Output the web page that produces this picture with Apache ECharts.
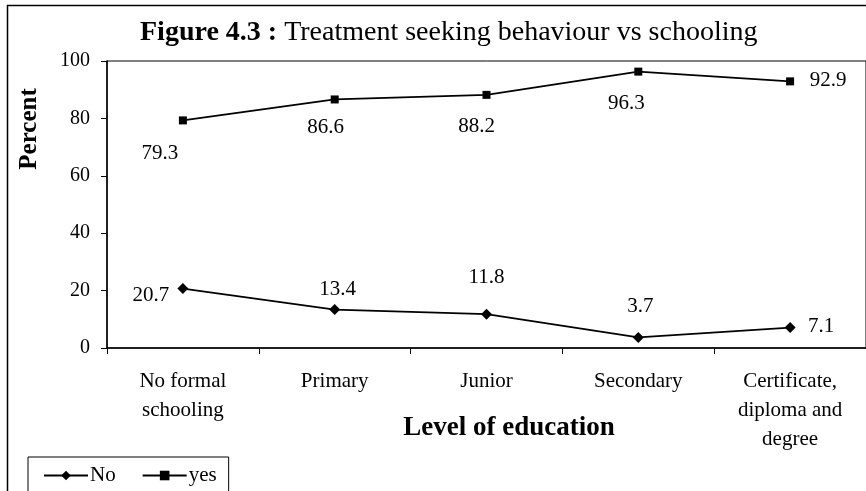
<!DOCTYPE html>
<html>
<head>
<meta charset="utf-8">
<script src="https://cdn.jsdelivr.net/npm/echarts@6/dist/echarts.min.js"></script>
<style>
  html, body { margin: 0; padding: 0; background: #fff; }
  #chart { width: 866px; height: 491px; }
</style>
</head>
<body>
<div id="chart"></div>
<script>
// data
var categories = ['No formal\nschooling', 'Primary', 'Junior', 'Secondary', 'Certificate,\ndiploma and\ndegree'];
var noValues = [20.7, 13.4, 11.8, 3.7, 7.1];
var yesValues = [79.3, 86.6, 88.2, 96.3, 92.9];
var yTicks = [0, 20, 40, 60, 80, 100];

// where each value label sits relative to its point (style only)
var noLabelOffsets = [[-32, 7], [3, -20], [0, -37], [2, -31], [31, -1]];
var yesLabelOffsets = [[-23, 33], [-9, 28], [-10, 32], [-12, 32], [38, -1]];

var FONT = '"Liberation Serif", "Times New Roman", serif';

function withLabels(values, offsets) {
  var out = [];
  for (var i = 0; i < values.length; i++) {
    out.push({
      value: values[i],
      label: { offset: offsets[i] }
    });
  }
  return out;
}

var chart = echarts.init(document.getElementById('chart'));

var baseSeries = {
  type: 'line',
  smooth: false,
  lineStyle: { color: '#000', width: 1.8 },
  itemStyle: { color: '#000' },
  label: {
    show: true,
    position: 'inside',
    color: '#000',
    fontFamily: FONT,
    fontSize: 21
  }
};

var option = {
  animation: false,
  backgroundColor: '#fff',
  title: {
    left: 135,
    top: 14,
    text: '{b|Figure 4.3 :} Treatment seeking behaviour vs schooling',
    textStyle: {
      fontFamily: FONT,
      fontSize: 28,
      fontWeight: 'normal',
      color: '#000',
      rich: {
        b: { fontFamily: FONT, fontSize: 28, fontWeight: 'bold', color: '#000' }
      }
    }
  },
  legend: {
    left: 28,
    top: 457,
    orient: 'horizontal',
    padding: [8, 12, 30, 15],
    itemGap: 26,
    itemWidth: 44,
    itemHeight: 12,
    borderColor: '#000',
    borderWidth: 1,
    textStyle: { fontFamily: FONT, fontSize: 21, color: '#000', padding: [0, 0, 0, -3] },
    data: ['No', 'yes']
  },
  grid: {
    show: true,
    left: 107,
    top: 61,
    right: -9,
    bottom: 143,
    borderColor: '#000',
    borderWidth: 1,
    backgroundColor: 'transparent'
  },
  xAxis: {
    type: 'category',
    data: categories,
    boundaryGap: true,
    axisLine: { show: true, lineStyle: { color: '#000', width: 1.5 } },
    axisTick: { show: true, interval: 0, length: 6, lineStyle: { color: '#000' } },
    axisLabel: {
      interval: 0,
      margin: 19,
      color: '#000',
      fontFamily: FONT,
      fontSize: 21,
      lineHeight: 29
    },
    splitLine: { show: false }
  },
  yAxis: {
    type: 'value',
    min: yTicks[0],
    max: yTicks[yTicks.length - 1],
    interval: 20,
    axisLine: { show: true, lineStyle: { color: '#000', width: 1.5 } },
    axisTick: { show: true, length: 6, lineStyle: { color: '#000' } },
    axisLabel: { margin: 17, color: '#000', fontFamily: FONT, fontSize: 20 },
    splitLine: { show: false }
  },
  graphic: [
    {
      type: 'rect',
      silent: true,
      shape: { x: 7.5, y: 5.5, width: 900, height: 520 },
      style: { fill: 'none', stroke: '#000', lineWidth: 1.5 }
    },
    {
      type: 'text',
      silent: true,
      x: 30,
      y: 129,
      rotation: Math.PI / 2,
      style: {
        text: 'Percent',
        fontFamily: FONT,
        fontSize: 25,
        fontWeight: 'bold',
        fill: '#000',
        textAlign: 'center',
        textVerticalAlign: 'middle'
      }
    },
    {
      type: 'text',
      silent: true,
      x: 509,
      y: 428,
      style: {
        text: 'Level of education',
        fontFamily: FONT,
        fontSize: 27,
        fontWeight: 'bold',
        fill: '#000',
        textAlign: 'center',
        textVerticalAlign: 'middle'
      }
    }
  ],
  series: [
    echarts.util.merge({
      name: 'No',
      symbol: 'diamond',
      symbolSize: 11,
      data: withLabels(noValues, noLabelOffsets)
    }, baseSeries),
    echarts.util.merge({
      name: 'yes',
      symbol: 'rect',
      symbolSize: 8,
      data: withLabels(yesValues, yesLabelOffsets)
    }, baseSeries)
  ]
};

chart.setOption(option);
</script>
</body>
</html>
